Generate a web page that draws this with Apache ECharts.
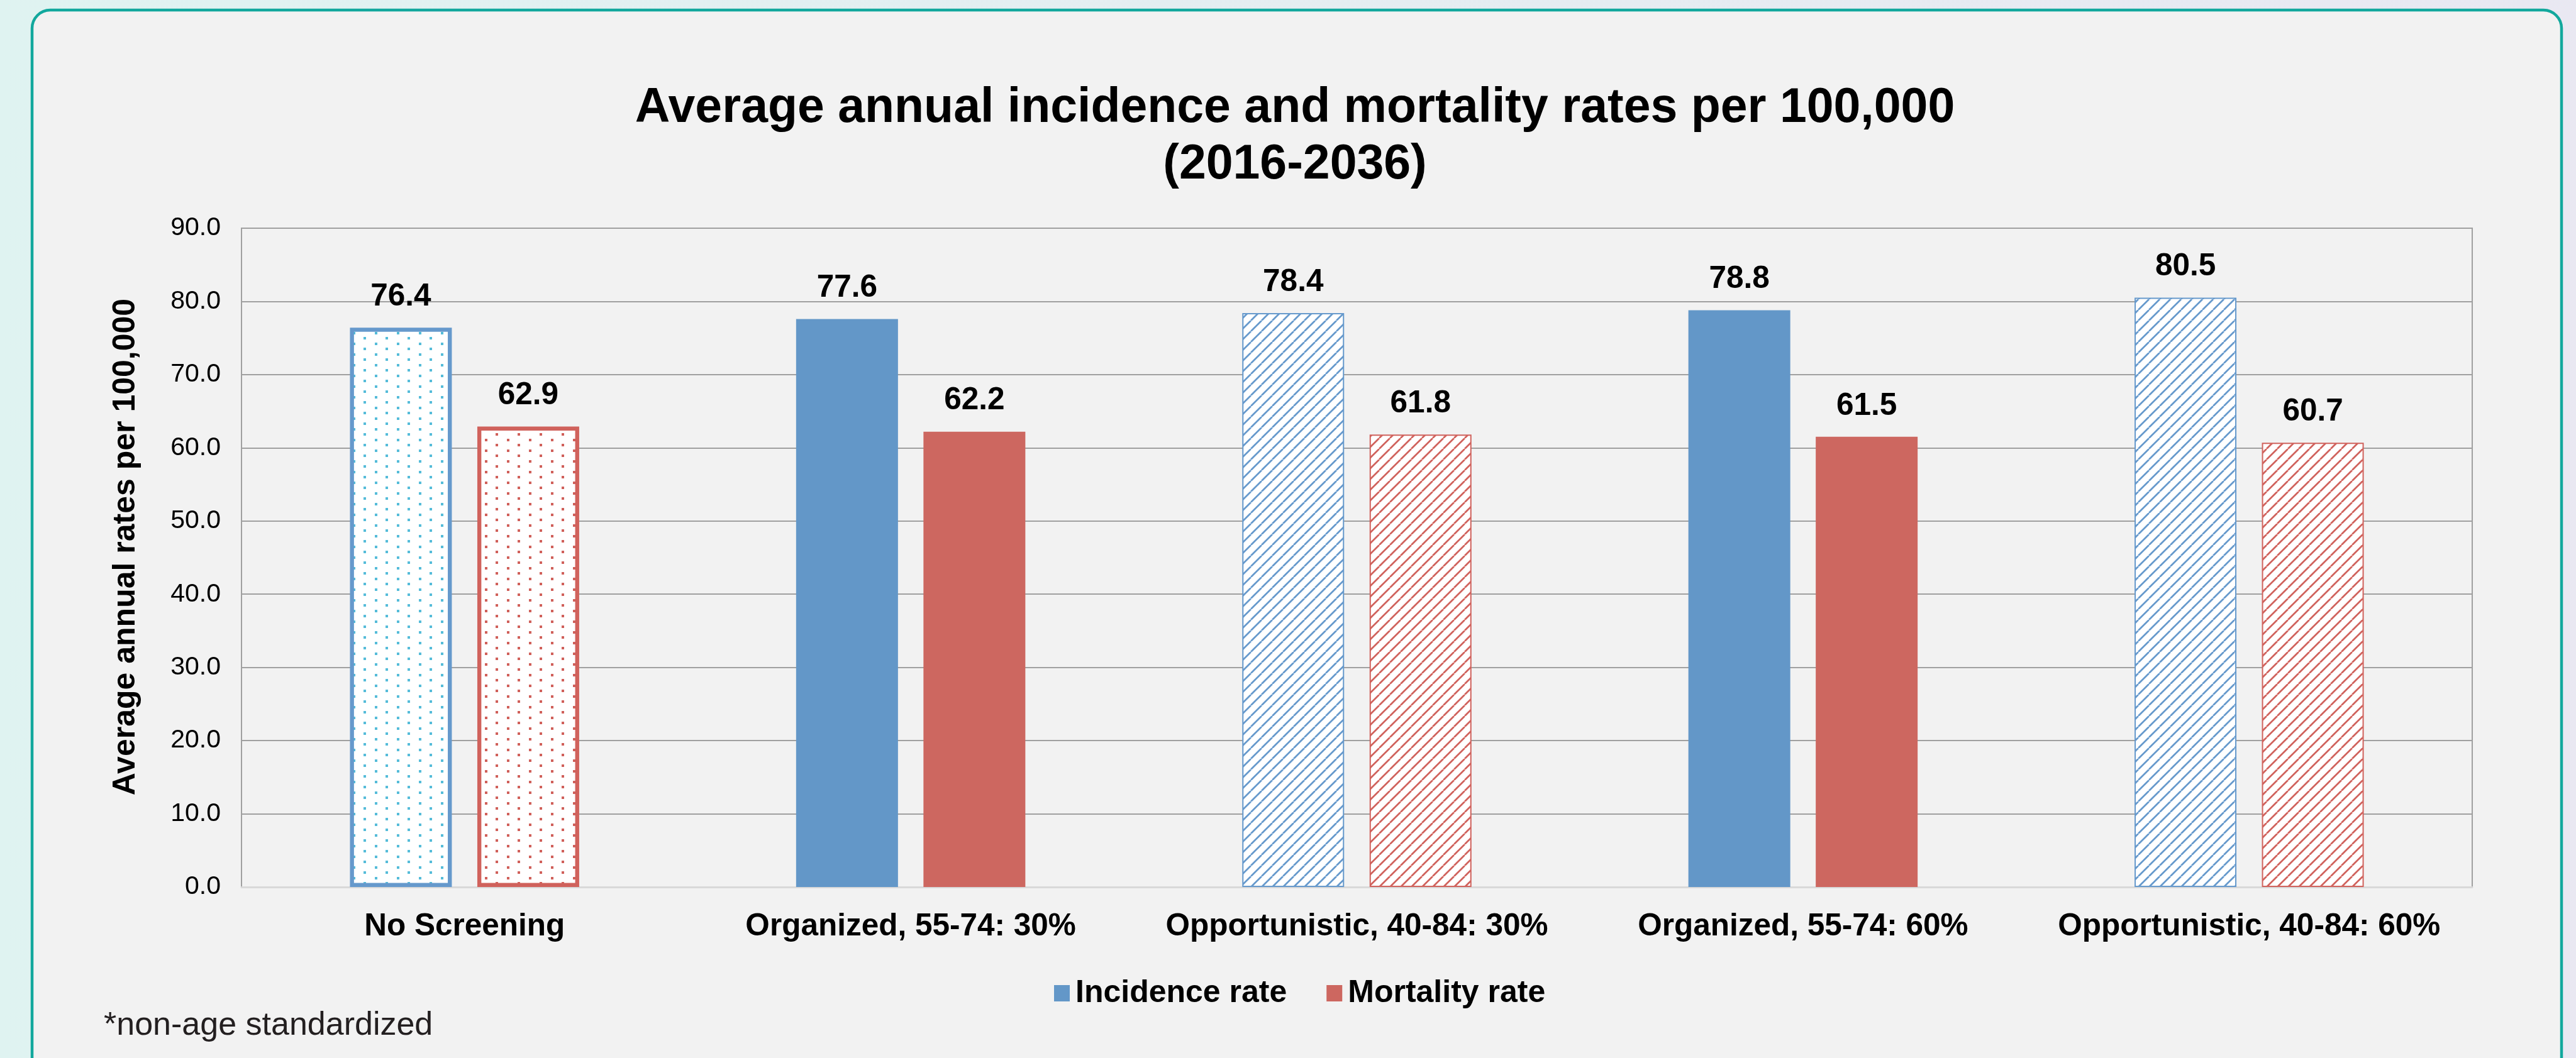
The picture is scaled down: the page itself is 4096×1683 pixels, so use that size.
<!DOCTYPE html>
<html>
<head>
<meta charset="utf-8">
<title>Average annual incidence and mortality rates</title>
<script src="https://cdn.jsdelivr.net/npm/echarts@6/dist/echarts.min.js"></script>
<style>
  html, body { margin: 0; padding: 0; }
  #main { width: 4096px; height: 1683px; }
</style>
</head>
<body>
<div id="main"></div>
<script type="text/javascript">
// data
var categories = ['No Screening', 'Organized, 55-74: 30%', 'Opportunistic, 40-84: 30%', 'Organized, 55-74: 60%', 'Opportunistic, 40-84: 60%'];
var incidence = [76.4, 77.6, 78.4, 78.8, 80.5];
var mortality = [62.9, 62.2, 61.8, 61.5, 60.7];
var seriesNames = ['Incidence rate', 'Mortality rate'];
var yMin = 0, yMax = 90, yStep = 10;

// how each category's bars are filled
var fillKinds = ['dots', 'solid', 'hatch', 'solid', 'hatch'];

var FONT = '"Liberation Sans", Arial, Helvetica, sans-serif';
var BLUE = '#6397c8', RED = '#cd6760';
var BLUE_LINE = '#6699cc', RED_LINE = '#d0625c';
var BLUE_DOT = '#55bcd9', RED_DOT = '#d0605a';

function dotPattern(color) {
	var c = document.createElement('canvas');
	c.width = 35; c.height = 17;
	var ctx = c.getContext('2d');
	ctx.fillStyle = '#ffffff';
	ctx.fillRect(0, 0, 35, 17);
	ctx.fillStyle = color;
	ctx.fillRect(1, 1, 4, 4);
	ctx.fillRect(18, 9, 4, 4);
	return c;
}

function hatchPattern(color) {
	var s = 17;
	var c = document.createElement('canvas');
	c.width = s; c.height = s;
	var ctx = c.getContext('2d');
	ctx.fillStyle = '#ffffff';
	ctx.fillRect(0, 0, s, s);
	ctx.strokeStyle = color;
	ctx.lineWidth = 2.7;
	for (var k = -1; k <= 1; k++) {
		ctx.beginPath();
		ctx.moveTo(k * s, s);
		ctx.lineTo(k * s + s, 0);
		ctx.stroke();
	}
	return c;
}

function buildItems(values, solid, line, dot) {
	return values.map(function (v, i) {
		var kind = fillKinds[i];
		var style;
		if (kind == 'dots') {
			style = { color: { image: dotPattern(dot), repeat: 'repeat' }, borderColor: line, borderWidth: 6.4 };
		} else if (kind == 'hatch') {
			style = { color: { image: hatchPattern(line), repeat: 'repeat' }, borderColor: line, borderWidth: 2 };
		} else {
			style = { color: solid, borderWidth: 0 };
		}
		return { value: v, itemStyle: style };
	});
}

var labelOption = {
	show: true,
	position: 'top',
	distance: 24,
	fontFamily: FONT,
	fontSize: 49.5,
	fontWeight: 'bold',
	color: '#000',
	formatter: function (p) { return p.value.toFixed(1); }
};

var myChart = echarts.init(document.getElementById('main'));

var option = {
	backgroundColor: new echarts.graphic.LinearGradient(0, 0, 1, 0, [
		{ offset: 0, color: '#dff3f1' },
		{ offset: 1, color: '#e9e8f2' }
	]),
	animation: false,
	graphic: [
		{
			type: 'rect', z: -10,
			shape: { x: 51, y: 16, width: 4022, height: 1720, r: 29 },
			style: { fill: '#f2f2f2', stroke: '#12a89d', lineWidth: 4.5 }
		},
		{
			type: 'text', x: 2059, y: 128,
			style: {
				text: 'Average annual incidence and mortality rates per 100,000\n(2016-2036)',
				textAlign: 'center', textVerticalAlign: 'top',
				font: 'bold 77px ' + FONT, lineHeight: 90, fill: '#000'
			}
		},
		{
			type: 'text', x: 200, y: 870, rotation: Math.PI / 2,
			style: {
				text: 'Average annual rates per 100,000',
				textAlign: 'center', textVerticalAlign: 'middle',
				font: 'bold 50px ' + FONT, fill: '#000'
			}
		},
		{
			type: 'text', x: 165, y: 1632,
			style: {
				text: '*non-age standardized',
				textAlign: 'left', textVerticalAlign: 'middle',
				font: '52px ' + FONT, fill: '#231f20'
			}
		}
	],
	legend: {
		data: seriesNames,
		left: 1671,
		top: 1550,
		itemWidth: 25,
		itemHeight: 26,
		itemGap: 63,
		icon: 'rect',
		selectedMode: false,
		textStyle: { fontFamily: FONT, fontSize: 50, fontWeight: 'bold', color: '#000', padding: [0, 0, 0, 4] }
	},
	grid: {
		left: 384, right: 165, top: 363, bottom: 272,
		show: true, borderColor: '#a0a0a0', borderWidth: 2, backgroundColor: 'transparent'
	},
	xAxis: {
		type: 'category',
		data: categories,
		axisLine: { show: true, lineStyle: { color: '#d9d9d9', width: 3 } },
		axisTick: { show: false },
		axisLabel: { interval: 0, margin: 38, fontFamily: FONT, fontSize: 49.5, fontWeight: 'bold', color: '#000' },
		splitLine: { show: false }
	},
	yAxis: {
		type: 'value',
		min: yMin, max: yMax, interval: yStep,
		axisLine: { show: false },
		axisTick: { show: false },
		axisLabel: {
			margin: 33, fontFamily: FONT, fontSize: 41, color: '#000',
			formatter: function (v) { return v.toFixed(1); }
		},
		splitLine: { lineStyle: { color: '#a0a0a0', width: 2 } }
	},
	series: [
		{
			name: seriesNames[0],
			type: 'bar',
			barWidth: 162,
			barGap: '25%',
			itemStyle: { color: BLUE },
			label: labelOption,
			emphasis: { disabled: true },
			data: buildItems(incidence, BLUE, BLUE_LINE, BLUE_DOT)
		},
		{
			name: seriesNames[1],
			type: 'bar',
			barWidth: 162,
			barGap: '25%',
			itemStyle: { color: RED },
			label: labelOption,
			emphasis: { disabled: true },
			data: buildItems(mortality, RED, RED_LINE, RED_DOT)
		}
	]
};
myChart.setOption(option);
</script>
</body>
</html>
